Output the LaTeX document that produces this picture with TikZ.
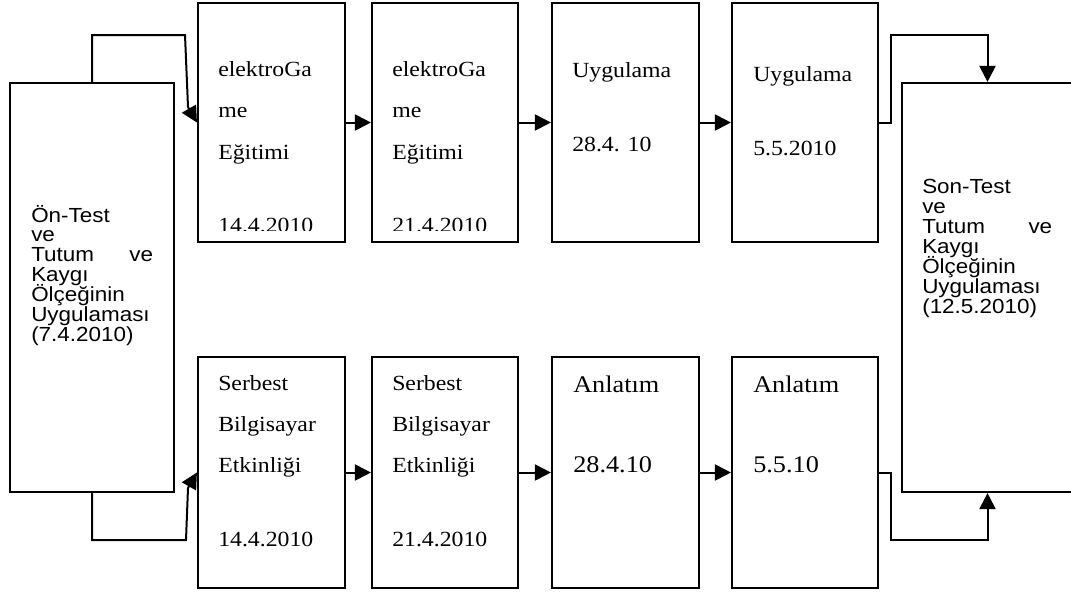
\documentclass[tikz,border=0pt]{standalone}
\usepackage{fontspec}
\usepackage{graphicx}
\usetikzlibrary{arrows.meta,fit}
\setmainfont{Liberation Serif}
\newfontfamily\boxsans{Liberation Sans}
% text in the boxes is set slightly wide
\newcommand\hstretch[1]{\scalebox{1.1}[1]{#1}}
\begin{document}
\begin{tikzpicture}[x=0.75pt,y=-0.75pt,
  box/.style={draw, line width=1.6pt, inner sep=0pt},
  conn/.style={line width=1.5pt},
  arr/.style={conn, -{Triangle[length=12pt,width=12pt]}},
  ser/.style={anchor=base west, inner sep=0pt, font=\fontsize{16.2}{18}\selectfont},
  serbig/.style={anchor=base west, inner sep=0pt, font=\fontsize{17.9}{20}\selectfont},
  san/.style={anchor=base west, inner sep=0pt, font=\boxsans\fontsize{15.3}{17}\selectfont}]
\useasboundingbox[fill=white] (0,0) rectangle (1071,594);

% boxes
\node[box, fit={(10,83) (174,492)}] (L) {};
\node[box, fit={(902,83) (1073,492)}] (R) {};
\node[box, fit={(198,3) (345,242)}] (t1) {};
\node[box, fit={(372,3) (518,242)}] (t2) {};
\node[box, fit={(552,3) (699,242)}] (t3) {};
\node[box, fit={(732,3) (878,242)}] (t4) {};
\node[box, fit={(198,357) (345,588)}] (b1) {};
\node[box, fit={(372,357) (518,588)}] (b2) {};
\node[box, fit={(552,357) (699,588)}] (b3) {};
\node[box, fit={(732,357) (878,588)}] (b4) {};

% left box text
\foreach \txt [count=\i from 0] in {Ön-Test, ve, {\makebox[83pt][l]{Tutum\hfill ve}}, Kaygı, Ölçeğinin, Uygulaması, (7.4.2010)}
  \node[san] (lt\i) at (31,222+19.9*\i) {\hstretch{\txt}};

% right box text
\foreach \txt [count=\i from 0] in {Son-Test, ve, {\makebox[88.6pt][l]{Tutum\hfill ve}}, Kaygı, Ölçeğinin, Uygulaması, (12.5.2010)}
  \node[san] (rt\i) at (922,193+20.1*\i) {\hstretch{\txt}};

% upper row text
\foreach \txt [count=\i from 0] in {elektroGa, me, Eğitimi} {
  \node[ser] (ta\i) at (218,76+41.5*\i) {\hstretch{\txt}};
  \node[ser] (tb\i) at (392,76+41.5*\i) {\hstretch{\txt}};
}
\begin{scope}
  \clip (198,3) rectangle (518,230.5);
  \node[ser] (tad) at (218,232) {\hstretch{14.4.2010}};
  \node[ser] (tbd) at (392,232) {\hstretch{21.4.2010}};
\end{scope}
\node[ser] (tc0) at (572,77) {\hstretch{Uygulama}};
\node[ser] (tc1) at (572,151) {\hstretch{28.4. 10}};
\node[ser] (td0) at (753,81) {\hstretch{Uygulama}};
\node[ser] (td1) at (753,155) {\hstretch{5.5.2010}};

% lower row text
\foreach \txt [count=\i from 0] in {Serbest, Bilgisayar, Etkinliği} {
  \node[ser] (ba\i) at (218,390+41*\i) {\hstretch{\txt}};
  \node[ser] (bb\i) at (392,390+41*\i) {\hstretch{\txt}};
}
\node[ser] (bad) at (218,546) {\hstretch{14.4.2010}};
\node[ser] (bbd) at (392,546) {\hstretch{21.4.2010}};
\node[serbig] (bc0) at (573,392) {\hstretch{Anlatım}};
\node[serbig] (bc1) at (573,472) {\hstretch{28.4.10}};
\node[serbig] (bd0) at (753,392) {\hstretch{Anlatım}};
\node[serbig] (bd1) at (753,472) {\hstretch{5.5.10}};

% bend points of the connectors
\coordinate (ka) at (185,35);
\coordinate (kb) at (188,107);
\coordinate (kc) at (186,540);
\coordinate (kd) at (188,488);
\coordinate (ke) at (891,35);
\coordinate (kf) at (891,540);

% connectors
\draw[arr] (L.north) |- (ka) -- (kb) -- (t1.west);
\draw[arr] (L.south) |- (kc) -- (kd) -- (b1.west);
\draw[arr] (t1.east) -- (t2.west);
\draw[arr] (t2.east) -- (t3.west);
\draw[arr] (t3.east) -- (t4.west);
\draw[arr] (b1.east) -- (b2.west);
\draw[arr] (b2.east) -- (b3.west);
\draw[arr] (b3.east) -- (b4.west);
\draw[arr] (t4.east) -| (ke) -| (R.north);
\draw[arr] (b4.east) -| (kf) -| (R.south);
\end{tikzpicture}
\end{document}
